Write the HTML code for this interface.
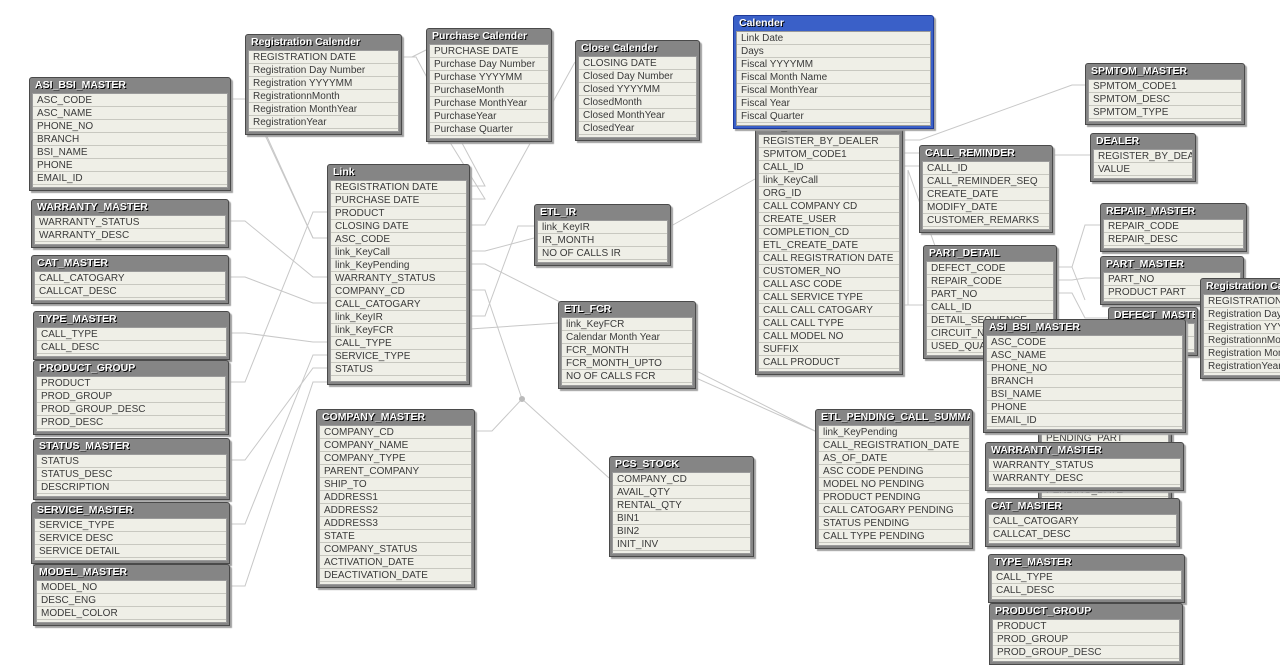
<!DOCTYPE html>
<html><head><meta charset="utf-8"><style>
*{box-sizing:border-box;margin:0;padding:0}
body{width:1280px;height:636px;background:#fff;position:relative;overflow:hidden;font-family:"Liberation Sans",sans-serif}
svg{position:absolute;left:0;top:0}
.t{position:absolute;background:#858585;border:1px solid #4a4a4a;border-radius:3px 3px 0 0;box-shadow:2px 2px 1px #a0a0a0;padding:0 2px 2px 2px}
.h{height:15px;line-height:15px;color:#fff;font-weight:bold;font-size:10.5px;text-shadow:1px 1px 0 #000;padding-left:3px;white-space:nowrap;overflow:hidden}
.b{background:#efefe7;border:1px solid #9a9a9a;overflow:hidden;padding-bottom:2px}
.b div{height:13px;line-height:13px;border-bottom:1px solid #c8c8c0;font-size:10px;color:#3a3a3a;padding-left:4px;white-space:nowrap;overflow:hidden}
.blue{background:#3a60c8;border-color:#1e3a9a}
</style></head><body>
<svg width="1280" height="636" stroke="#c8c8c8" stroke-width="1" fill="none">
<polyline points="231,99 250,99 313,238 327,238"/>
<polyline points="229,221 245,221 313,277 327,277"/>
<polyline points="229,277 245,277 313,303 327,303"/>
<polyline points="230,333 245,333 313,342 327,342"/>
<polyline points="230,382 245,382 313,212 327,212"/>
<polyline points="230,460 245,460 313,368 327,368"/>
<polyline points="230,524 245,524 313,355 327,355"/>
<polyline points="230,586 245,586 313,382 327,382"/>
<polyline points="265,135 313,238"/>
<polyline points="402,57 416,57 485,186 470,186"/>
<polyline points="412,57 426,50"/>
<polyline points="470,199 485,199 430,110"/>
<polyline points="470,225 485,225 575,62"/>
<polyline points="470,251 485,251 534,238"/>
<polyline points="534,226 518,226 485,316 470,316"/>
<polyline points="470,264 485,264 815,431"/>
<polyline points="470,290 485,290 522,399 492,431 476,431"/>
<polyline points="522,399 609,478"/>
<polyline points="470,329 558,323"/>
<polyline points="671,226 755,179"/>
<polyline points="696,378 815,431"/>
<polyline points="903,140 920,140 1072,85 1085,85"/>
<polyline points="1053,155 1090,155"/>
<polyline points="903,153 919,153"/>
<polyline points="903,166 919,166"/>
<polyline points="903,305 923,305"/>
<polyline points="908,170 940,260"/>
<polyline points="908,170 908,305"/>
<polyline points="1057,267 1072,267 1085,225 1100,225"/>
<polyline points="1057,280 1072,280 1085,278 1100,278"/>
<polyline points="1057,293 1072,293 1085,318 1108,318"/>
<polyline points="1072,267 1085,300"/>
</svg>
<svg width="1280" height="636"><circle cx="522" cy="399" r="3" fill="#bbb"/></svg>

<div class="t" style="left:29px;top:77px;width:202px"><div class="h">ASI_BSI_MASTER</div><div class="b"><div>ASC_CODE</div><div>ASC_NAME</div><div>PHONE_NO</div><div>BRANCH</div><div>BSI_NAME</div><div>PHONE</div><div>EMAIL_ID</div></div></div>
<div class="t" style="left:31px;top:199px;width:198px"><div class="h">WARRANTY_MASTER</div><div class="b"><div>WARRANTY_STATUS</div><div>WARRANTY_DESC</div></div></div>
<div class="t" style="left:31px;top:255px;width:198px"><div class="h">CAT_MASTER</div><div class="b"><div>CALL_CATOGARY</div><div>CALLCAT_DESC</div></div></div>
<div class="t" style="left:33px;top:311px;width:197px"><div class="h">TYPE_MASTER</div><div class="b"><div>CALL_TYPE</div><div>CALL_DESC</div></div></div>
<div class="t" style="left:33px;top:360px;width:196px"><div class="h">PRODUCT_GROUP</div><div class="b"><div>PRODUCT</div><div>PROD_GROUP</div><div>PROD_GROUP_DESC</div><div>PROD_DESC</div></div></div>
<div class="t" style="left:33px;top:438px;width:197px"><div class="h">STATUS_MASTER</div><div class="b"><div>STATUS</div><div>STATUS_DESC</div><div>DESCRIPTION</div></div></div>
<div class="t" style="left:31px;top:502px;width:199px"><div class="h">SERVICE_MASTER</div><div class="b"><div>SERVICE_TYPE</div><div>SERVICE DESC</div><div>SERVICE DETAIL</div></div></div>
<div class="t" style="left:33px;top:564px;width:197px"><div class="h">MODEL_MASTER</div><div class="b"><div>MODEL_NO</div><div>DESC_ENG</div><div>MODEL_COLOR</div></div></div>

<div class="t" style="left:245px;top:34px;width:157px"><div class="h">Registration Calender</div><div class="b"><div>REGISTRATION DATE</div><div>Registration Day Number</div><div>Registration YYYYMM</div><div>RegistrationnMonth</div><div>Registration MonthYear</div><div>RegistrationYear</div></div></div>
<div class="t" style="left:426px;top:28px;width:126px"><div class="h">Purchase Calender</div><div class="b"><div>PURCHASE DATE</div><div>Purchase Day Number</div><div>Purchase YYYYMM</div><div>PurchaseMonth</div><div>Purchase MonthYear</div><div>PurchaseYear</div><div>Purchase Quarter</div></div></div>
<div class="t" style="left:575px;top:40px;width:125px"><div class="h">Close Calender</div><div class="b"><div>CLOSING DATE</div><div>Closed Day Number</div><div>Closed YYYYMM</div><div>ClosedMonth</div><div>Closed MonthYear</div><div>ClosedYear</div></div></div>

<div class="t" style="left:327px;top:164px;width:143px"><div class="h">Link</div><div class="b" style="padding-bottom:5px"><div>REGISTRATION DATE</div><div>PURCHASE DATE</div><div>PRODUCT</div><div>CLOSING DATE</div><div>ASC_CODE</div><div>link_KeyCall</div><div>link_KeyPending</div><div>WARRANTY_STATUS</div><div>COMPANY_CD</div><div>CALL_CATOGARY</div><div>link_KeyIR</div><div>link_KeyFCR</div><div>CALL_TYPE</div><div>SERVICE_TYPE</div><div>STATUS</div></div></div>
<div class="t" style="left:534px;top:204px;width:137px"><div class="h">ETL_IR</div><div class="b"><div>link_KeyIR</div><div>IR_MONTH</div><div>NO OF CALLS IR</div></div></div>
<div class="t" style="left:558px;top:301px;width:138px"><div class="h">ETL_FCR</div><div class="b"><div>link_KeyFCR</div><div>Calendar Month Year</div><div>FCR_MONTH</div><div>FCR_MONTH_UPTO</div><div>NO OF CALLS FCR</div></div></div>
<div class="t" style="left:316px;top:409px;width:159px"><div class="h">COMPANY_MASTER</div><div class="b"><div>COMPANY_CD</div><div>COMPANY_NAME</div><div>COMPANY_TYPE</div><div>PARENT_COMPANY</div><div>SHIP_TO</div><div>ADDRESS1</div><div>ADDRESS2</div><div>ADDRESS3</div><div>STATE</div><div>COMPANY_STATUS</div><div>ACTIVATION_DATE</div><div>DEACTIVATION_DATE</div></div></div>
<div class="t" style="left:609px;top:456px;width:145px"><div class="h">PCS_STOCK</div><div class="b"><div>COMPANY_CD</div><div>AVAIL_QTY</div><div>RENTAL_QTY</div><div>BIN1</div><div>BIN2</div><div>INIT_INV</div></div></div>

<div class="t" style="left:755px;top:118px;width:148px"><div class="h">Call_Detail</div><div class="b"><div>REGISTER_BY_DEALER</div><div>SPMTOM_CODE1</div><div>CALL_ID</div><div>link_KeyCall</div><div>ORG_ID</div><div>CALL COMPANY CD</div><div>CREATE_USER</div><div>COMPLETION_CD</div><div>ETL_CREATE_DATE</div><div>CALL REGISTRATION DATE</div><div>CUSTOMER_NO</div><div>CALL ASC CODE</div><div>CALL SERVICE TYPE</div><div>CALL CALL CATOGARY</div><div>CALL CALL TYPE</div><div>CALL MODEL NO</div><div>SUFFIX</div><div>CALL PRODUCT</div></div></div>
<div class="t blue" style="left:733px;top:15px;width:201px"><div class="h">Calender</div><div class="b"><div>Link Date</div><div>Days</div><div>Fiscal YYYYMM</div><div>Fiscal Month Name</div><div>Fiscal MonthYear</div><div>Fiscal Year</div><div>Fiscal Quarter</div></div></div>

<div class="t" style="left:919px;top:145px;width:134px"><div class="h">CALL_REMINDER</div><div class="b"><div>CALL_ID</div><div>CALL_REMINDER_SEQ</div><div>CREATE_DATE</div><div>MODIFY_DATE</div><div>CUSTOMER_REMARKS</div></div></div>
<div class="t" style="left:1085px;top:63px;width:160px"><div class="h">SPMTOM_MASTER</div><div class="b"><div>SPMTOM_CODE1</div><div>SPMTOM_DESC</div><div>SPMTOM_TYPE</div></div></div>
<div class="t" style="left:1090px;top:133px;width:106px"><div class="h">DEALER</div><div class="b"><div>REGISTER_BY_DEAL</div><div>VALUE</div></div></div>
<div class="t" style="left:1100px;top:203px;width:147px"><div class="h">REPAIR_MASTER</div><div class="b"><div>REPAIR_CODE</div><div>REPAIR_DESC</div></div></div>
<div class="t" style="left:1108px;top:307px;width:90px"><div class="h">DEFECT_MASTER</div><div class="b"><div></div><div></div></div></div>
<div class="t" style="left:1100px;top:256px;width:144px"><div class="h">PART_MASTER</div><div class="b"><div>PART_NO</div><div>PRODUCT PART</div></div></div>
<div class="t" style="left:1200px;top:278px;width:86px"><div class="h">Registration Calender</div><div class="b"><div>REGISTRATION DATE</div><div>Registration Day Number</div><div>Registration YYYYMM</div><div>RegistrationnMonth</div><div>Registration MonthYear</div><div>RegistrationYear</div></div></div>
<div class="t" style="left:923px;top:245px;width:134px"><div class="h">PART_DETAIL</div><div class="b"><div>DEFECT_CODE</div><div>REPAIR_CODE</div><div>PART_NO</div><div>CALL_ID</div><div>DETAIL_SEQUENCE</div><div>CIRCUIT_NO</div><div>USED_QUANTITY</div></div></div>

<div class="t" style="left:815px;top:409px;width:158px"><div class="h">ETL_PENDING_CALL_SUMMARY</div><div class="b"><div>link_KeyPending</div><div>CALL_REGISTRATION_DATE</div><div>AS_OF_DATE</div><div>ASC CODE PENDING</div><div>MODEL NO PENDING</div><div>PRODUCT PENDING</div><div>CALL CATOGARY PENDING</div><div>STATUS PENDING</div><div>CALL TYPE PENDING</div></div></div>
<div class="t" style="left:1038px;top:389px;width:134px"><div class="h">PENDING</div><div class="b"><div></div><div></div><div>PENDING_PART</div><div></div><div></div><div></div><div>PENDING_DATE</div></div></div>
<div class="t" style="left:983px;top:319px;width:203px"><div class="h">ASI_BSI_MASTER</div><div class="b"><div>ASC_CODE</div><div>ASC_NAME</div><div>PHONE_NO</div><div>BRANCH</div><div>BSI_NAME</div><div>PHONE</div><div>EMAIL_ID</div></div></div>
<div class="t" style="left:985px;top:442px;width:199px"><div class="h">WARRANTY_MASTER</div><div class="b"><div>WARRANTY_STATUS</div><div>WARRANTY_DESC</div></div></div>
<div class="t" style="left:985px;top:498px;width:195px"><div class="h">CAT_MASTER</div><div class="b"><div>CALL_CATOGARY</div><div>CALLCAT_DESC</div></div></div>
<div class="t" style="left:988px;top:554px;width:197px"><div class="h">TYPE_MASTER</div><div class="b"><div>CALL_TYPE</div><div>CALL_DESC</div></div></div>
<div class="t" style="left:989px;top:603px;width:194px"><div class="h">PRODUCT_GROUP</div><div class="b"><div>PRODUCT</div><div>PROD_GROUP</div><div>PROD_GROUP_DESC</div></div></div>
</body></html>
